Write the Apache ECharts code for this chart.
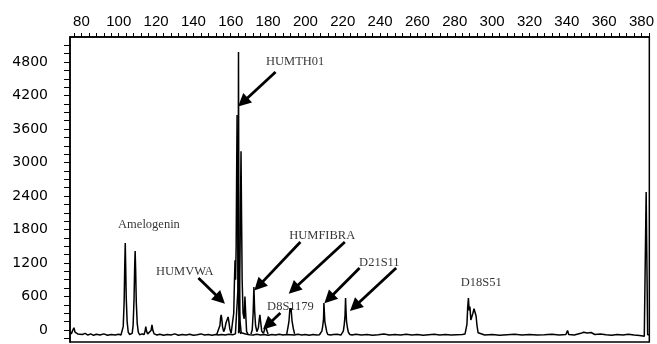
<!DOCTYPE html>
<html>
<head>
<meta charset="utf-8">
<script src="https://cdn.jsdelivr.net/npm/echarts@6.0.0/dist/echarts.min.js"></script>
<style>
  html, body { margin: 0; padding: 0; background: #fff; }
  #chart { width: 657px; height: 344px; }
</style>
</head>
<body>
<div id="chart"></div>
<script>
// axis labels
const xLabels = [80, 100, 120, 140, 160, 180, 200, 220, 240, 260, 280, 300, 320, 340, 360, 380];
const yLabels = [0, 600, 1200, 1800, 2400, 3000, 3600, 4200, 4800];

// trace A: baseline + Amelogenin, HUMTH01, D21S11, D18S51, end spike  [size (bp), signal]
const traceA = [
  [74, -30], [74.6, -70], [75.3, -10], [76, 40], [76.6, -40], [77.3, -20], [78, -70], [79, -50],
  [80.5, -80], [82, -60], [83.5, -90], [85, -70], [86.5, -95], [88, -75], [90, -90], [92, -70],
  [94, -95], [96, -80], [98, -90], [100, -75], [101.2, -90], [101.8, -70],
  [102.4, 60], [102.9, 500], [103.25, 1200], [103.5, 1560], [103.7, 1200], [104.0, 600],
  [104.5, 150], [105.1, -40], [105.8, -80], [106.6, -70], [107.2, -60],
  [107.7, 80], [108.2, 550], [108.55, 1150], [108.8, 1415], [109.05, 1100], [109.4, 500],
  [109.9, 120], [110.5, -40], [111.2, -85], [112.5, -70], [113.6, -80], [114.1, -20],
  [114.5, 60], [114.9, -20], [115.5, -70], [116.5, -85], [117.3, -10], [117.8, 90],
  [118.3, -10], [119, -70], [120.5, -90], [122, -75], [124, -95], [126, -80], [128, -90],
  [130, -70], [132, -95], [134, -80], [136, -90], [138, -75], [140, -95], [142, -85],
  [144, -70], [146, -90], [148, -80], [150, -95], [152, -80], [153.5, -90], [155, -80],
  [157, -90], [159, -75], [161, -85], [162.5, -70],
  [163.4, -40], [163.8, 700], [164.0, 2500], [164.15, 4980], [164.3, 2600], [164.6, 800],
  [165.0, 150], [165.6, -50], [166.5, -80], [168, -70], [170, -85], [172, -90], [174, -75],
  [176, -90], [178, -80], [180, -95], [182, -80], [184, -90], [186, -75], [188, -90],
  [190, -80], [192, -85], [194, -90], [196, -75], [198, -90], [200, -80], [202, -95],
  [204, -80], [206, -90], [207.5, -85], [208.3, -80],
  [208.8, -20], [209.3, 80], [209.7, 200], [209.9, 484], [210.1, 350], [210.4, 150],
  [210.9, 60], [211.4, -30], [212, -80], [213.5, -90], [215, -80], [217, -75], [219, -90],
  [219.8, -80], [220.3, -20], [220.8, 100], [221.2, 250], [221.5, 573], [221.7, 380],
  [222.0, 160], [222.5, 40], [223.0, -40], [223.8, -80], [225, -90], [227, -75], [230, -90],
  [233, -80], [236, -95], [239, -85], [242, -70], [245, -90], [248, -80], [251, -90],
  [254, -75], [257, -90], [260, -80], [263, -95], [266, -85], [269, -75], [272, -90],
  [275, -80], [278, -90], [281, -85], [284, -80], [285.5, -70],
  [286.0, -40], [286.5, 100], [286.9, 400], [287.3, 573], [287.7, 350], [288.1, 420],
  [288.6, 180], [289.2, 150], [289.7, 300], [290.3, 380], [290.9, 412], [291.4, 250],
  [291.9, 80], [292.5, -50], [293.5, -85], [296, -90], [300, -80], [304, -95], [308, -85],
  [312, -75], [316, -90], [320, -80], [324, -90], [328, -85], [332, -75], [336, -90],
  [339.5, -80], [340.4, -10], [341, -80], [344, -90], [347.5, -60], [349, -40], [351, -55],
  [353, -45], [355, -80], [358, -70], [361, -85], [364, -95], [367, -80], [370, -90],
  [373, -75], [376, -90], [379, -100], [381.5, -110], [382.3, -90], [382.5, 2470],
  [382.9, 2470], [383.3, -80], [384, -90]
];

// trace B: HUMVWA, HUMTH01 second allele, HUMFIBRA, D8S1179
const traceB = [
  [152.5, -80], [153.5, -60], [154.2, 80], [154.6, 230], [154.9, 269], [155.2, 200],
  [155.6, 60], [156.2, -30], [156.8, 20], [157.4, 120], [158.0, 180], [158.6, 233],
  [159.0, 150], [159.5, 20], [160.2, -60], [161, -40], [161.6, 300], [162.0, 900],
  [162.3, 1250], [162.6, 900], [162.9, 1500], [163.2, 3000], [163.4, 3850], [163.6, 2800],
  [163.9, 1200], [164.3, 400], [164.8, -30], [165.5, -70], [168, null],
  [170.8, -70], [171.5, 0], [172.0, 300], [172.4, 770], [172.8, 350], [173.3, 80],
  [174, -30], [174.8, 40], [175.3, 200], [175.6, 270], [176.0, 150], [176.6, -20],
  [177.5, -60], [178.3, 20], [178.8, 90], [179.3, -10], [180, -70], [185, null],
  [190.0, -70], [190.6, 40], [191.2, 160], [191.7, 394], [192.0, 320], [192.3, 394],
  [192.8, 170], [193.5, 30], [194.2, -70]
];

// trace C: HUMTH01 third peak and shoulder
const traceC = [
  [164.2, -60], [164.7, 500], [165.1, 1800], [165.5, 3200], [165.8, 2000], [166.1, 900],
  [166.6, 300], [167.2, 200], [167.6, 600], [168.0, 300], [168.5, -30], [169.2, -70]
];

// locus names [name, size, signal]
const locusLabels = [
  ['Amelogenin', 116.2, 1880],
  ['HUMTH01', 194.5, 4800],
  ['HUMVWA', 135.4, 1039],
  ['HUMFIBRA', 209.0, 1684],
  ['D8S1179', 192.0, 412],
  ['D21S11', 239.6, 1200],
  ['D18S51', 294.2, 842]
];

// arrows [[from], [to]] in size / signal units
const arrows = [
  [[184.0, 4621], [166.5, 4080]],
  [[142.7, 931], [154.4, 550]],
  [[197.3, 1576], [175.0, 790]],
  [[221.1, 1576], [193.6, 730]],
  [[186.6, 304], [179.8, 90]],
  [[229.0, 1110], [212.6, 560]],
  [[248.6, 1110], [226.4, 420]]
];

// tick positions every 4 bp / 150 units
const xTicks = [];
for (let v = 76; v <= 384; v += 4) xTicks.push(v);
const yTicks = [];
for (let v = -150; v <= 5250; v += 150) yTicks.push(v);

const X_MIN = 73.9, X_MAX = 384.2, Y_MIN = -215, Y_MAX = 5248;

let myChart = echarts.init(document.getElementById('chart'));

function traceSeries(name, data) {
  return {
    name: name,
    type: 'line',
    data: data,
    showSymbol: false,
    symbol: 'none',
    connectNulls: false,
    silent: true,
    lineStyle: { color: '#000', width: 1.5 },
    z: 3
  };
}

let seriesA = traceSeries('A', traceA);
seriesA.markLine = {
  silent: true,
  symbol: ['none', 'triangle'],
  symbolSize: 13,
  label: { show: false },
  lineStyle: { color: '#000', width: 2.8, type: 'solid' },
  itemStyle: { color: '#000' },
  emphasis: { disabled: true },
  data: arrows.map(a => [{ coord: a[0] }, { coord: a[1] }])
};

let option = {
  animation: false,
  grid: {
    left: 70,
    right: 1,
    top: 37,
    bottom: 2,
    show: true,
    borderColor: '#000',
    borderWidth: 1.5
  },
  xAxis: {
    type: 'value',
    position: 'top',
    min: X_MIN,
    max: X_MAX,
    axisLine: { show: true, onZero: false, lineStyle: { color: '#000', width: 1.5 } },
    axisTick: { show: true, length: 4, customValues: xTicks, lineStyle: { color: '#000' } },
    axisLabel: {
      customValues: xLabels,
      formatter: v => String(v),
      color: '#000',
      fontFamily: 'Liberation Sans',
      fontSize: 15,
      margin: 8
    },
    splitLine: { show: false }
  },
  yAxis: {
    type: 'value',
    position: 'left',
    min: Y_MIN,
    max: Y_MAX,
    axisLine: { show: true, onZero: false, lineStyle: { color: '#000', width: 1.5 } },
    axisTick: { show: true, length: 6, customValues: yTicks, lineStyle: { color: '#000' } },
    axisLabel: {
      customValues: yLabels,
      formatter: v => String(v),
      color: '#000',
      fontFamily: 'DejaVu Sans',
      fontSize: 14,
      margin: 22
    },
    splitLine: { show: false }
  },
  series: [
    seriesA,
    traceSeries('B', traceB),
    traceSeries('C', traceC),
    {
      name: 'labels',
      type: 'scatter',
      silent: true,
      symbolSize: 0,
      data: locusLabels.map(l => ({ name: l[0], value: [l[1], l[2]] })),
      label: {
        show: true,
        position: 'inside',
        formatter: '{b}',
        color: '#000',
        fontFamily: 'Liberation Serif',
        fontSize: 12.5
      },
      z: 5
    }
  ]
};

myChart.setOption(option);
window.addEventListener('resize', () => { myChart.resize(); }, true);
</script>
</body>
</html>
